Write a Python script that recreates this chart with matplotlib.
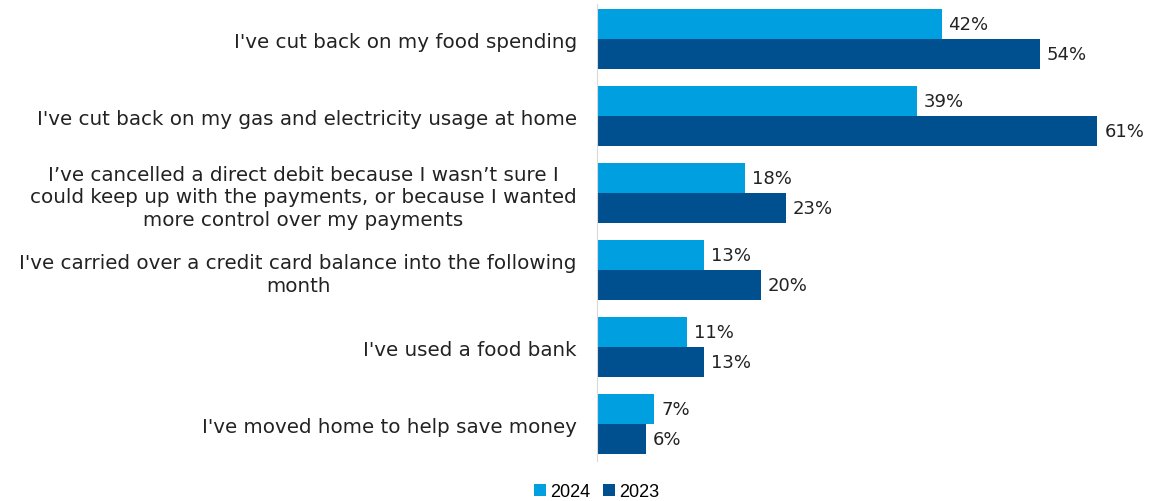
import matplotlib
matplotlib.use('Agg')
import matplotlib.pyplot as plt
import numpy as np

categories = [
    "I've cut back on my food spending",
    "I've cut back on my gas and electricity usage at home",
    "I\u2019ve cancelled a direct debit because I wasn\u2019t sure I\n"
    "could keep up with the payments, or because I wanted\n"
    "more control over my payments",
    "I've carried over a credit card balance into the following\nmonth",
    "I've used a food bank",
    "I've moved home to help save money",
]
values_2024 = [42, 39, 18, 13, 11, 7]
values_2023 = [54, 61, 23, 20, 13, 6]
series = [('2024', values_2024, '#009fe0'), ('2023', values_2023, '#004f8e')]

FONT = 'DejaVu Sans'

fig = plt.figure(figsize=(11.5, 5.02), dpi=100)
ax = fig.add_axes([597 / 1150, 1 - 462 / 502, 1 - 597 / 1150, (462 - 5) / 502])

y = np.arange(len(categories))
h = 0.395
for i, (name, vals, color) in enumerate(series):
    pos = y - h / 2 + i * h
    bars = ax.barh(pos, vals, height=h, color=color, label=name)
    for rect, v in zip(bars, vals):
        ax.annotate(f'{v}%', (rect.get_width(), rect.get_y() + rect.get_height() / 2),
                    xytext=(5, 0), textcoords='offset points', va='center', ha='left',
                    fontsize=13, color='#222222', family=FONT)

ax.set_xlim(0, 67.4)
ax.set_ylim(5.48, -0.455)
ax.set_xticks([])
ax.set_yticks(y)
ax.set_yticklabels(categories, fontsize=14.3, family=FONT, color='#222222',
                   multialignment='center', linespacing=1.25)
ax.tick_params(axis='y', length=0, pad=14.5)
for side in ('top', 'right', 'bottom'):
    ax.spines[side].set_visible(False)
ax.spines['left'].set_color('#d9d9d9')

fig.legend(loc='center', bbox_to_anchor=(597 / 1150, 1 - 493 / 502), ncol=2,
           frameon=False, handlelength=0.65, handleheight=0.65,
           handletextpad=0.25, columnspacing=0.7, prop={'family': 'Liberation Sans', 'size': 13})

fig.savefig('out.png', dpi=100)
